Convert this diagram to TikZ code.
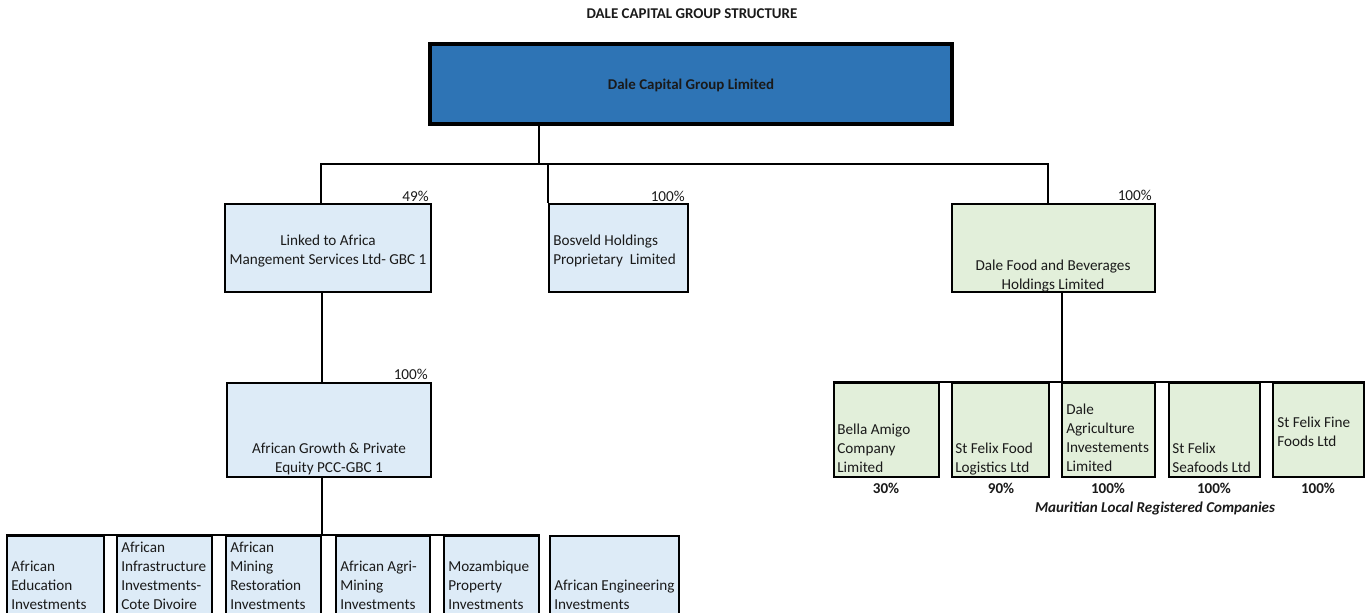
\documentclass[tikz,border=0pt]{standalone}
\usepackage{fontspec}
\setmainfont{Carlito}
\usetikzlibrary{fit}
\definecolor{topblue}{HTML}{2E74B5}
\definecolor{lblue}{HTML}{DDEBF7}
\definecolor{lgreen}{HTML}{E2EFDA}
\definecolor{ink}{HTML}{1A1A1A}
\newcommand\lefttab[1]{\begin{tabular}[t]{@{}l@{}}#1\end{tabular}}
\newcommand\centtab[1]{\begin{tabular}[t]{@{}c@{}}#1\end{tabular}}
\begin{document}
\begin{tikzpicture}[x=0.75pt,y=-0.75pt,
  bbox/.style={draw=black,line width=1.8pt,inner sep=0pt},
  conn/.style={draw=black,line width=1.4pt},
  txt/.style={inner sep=0pt,text=ink,font=\fontsize{11.4}{14.25}\selectfont},
  bpct/.style={inner sep=0pt,text=ink,font=\bfseries\fontsize{11.3}{14.25}\selectfont},
  head/.style={inner sep=0pt,text=ink,font=\bfseries\fontsize{11.2}{13}\selectfont}]
\path[use as bounding box] (0,0) rectangle (1366,613);
\clip (0,0) rectangle (1366,613);

% title
\node[head, anchor=base] (title) at (692,19) {DALE CAPITAL GROUP STRUCTURE};

% boxes
\node[bbox, line width=2.4pt, fill=topblue, fit={(430,44)(952,124)}] (top) {};
\node[head, anchor=base] (toptxt) at (691,90) {Dale Capital Group Limited};

\node[bbox, fill=lblue, fit={(225,204)(431,292)}] (link) {};
\node[bbox, fill=lblue, fit={(549,204)(688,292)}] (bos) {};
\node[bbox, fill=lgreen, fit={(952,204)(1155,292)}] (dfb) {};
\node[bbox, fill=lblue, fit={(227,383)(431,477)}] (ag) {};

\node[bbox, fill=lgreen, fit={(834,383)(939,477)}] (m1) {};
\node[bbox, fill=lgreen, fit={(952,383)(1049,477)}] (m2) {};
\node[bbox, fill=lgreen, fit={(1062,383)(1155,477)}] (m3) {};
\node[bbox, fill=lgreen, fit={(1169,383)(1260,477)}] (m4) {};
\node[bbox, fill=lgreen, fit={(1273,383)(1364,477)}] (m5) {};

\node[bbox, fill=lblue, fit={(7,536)(104,650)}] (e1) {};
\node[bbox, fill=lblue, fit={(117,536)(212,650)}] (e2) {};
\node[bbox, fill=lblue, fit={(226,536)(321,650)}] (e3) {};
\node[bbox, fill=lblue, fit={(336,536)(430,650)}] (e4) {};
\node[bbox, fill=lblue, fit={(444,536)(539,650)}] (e5) {};
\node[bbox, fill=lblue, fit={(550,536)(679,650)}] (e6) {};

% connectors
\coordinate (hub) at (539,164);
\coordinate (dl) at (321,164);
\coordinate (dr) at (1048,164);
\coordinate (dm) at (322,0);
\coordinate (dfx) at (1062,0);
\draw[conn] (top.south -| hub) -- (hub);
\draw[conn] (dl |- link.north) -- (dl) -- (dr) -- (dr |- dfb.north);
\draw[conn] (bos.north west) -- (bos.north west |- hub);
\draw[conn] (link.south -| dm) -- (ag.north -| dm);
\draw[conn] (ag.south -| dm) -- (e1.north -| dm);
\draw[conn] (e1.north west) -- (e5.north east);
\draw[conn] (dfb.south -| dfx) -- (m1.north -| dfx);
\draw[conn] (m1.north west) -- (m5.north east);

% percentages above
\node[txt, anchor=base east] (p49) at (429,201) {49\%};
\node[txt, anchor=base east] (pbos) at (685,201) {100\%};
\node[txt, anchor=base east] (pdfb) at (1152,200) {100\%};
\node[txt, anchor=base east] (pag) at (428,379) {100\%};

% box texts
\node[txt, anchor=base] (linkt) at (328,245) {\centtab{Linked to Africa\\Mangement Services Ltd- GBC 1}};
\node[txt, anchor=base west] (bost) at (553,245) {\lefttab{Bosveld Holdings\\Proprietary\ \ Limited}};
\node[txt, anchor=base] (dfbt) at (1053,270) {\centtab{Dale Food and Beverages\\Holdings Limited}};
\node[txt, anchor=base] (agt) at (329,453) {\centtab{African Growth \& Private\\Equity PCC-GBC 1}};

\node[txt, anchor=base west] (m1t) at (837,434) {\lefttab{Bella Amigo\\Company\\Limited}};
\node[txt, anchor=base west] (m2t) at (955,453) {\lefttab{St Felix Food\\Logistics Ltd}};
\node[txt, anchor=base west] (m3t) at (1066,414) {\lefttab{Dale\\Agriculture\\Investements\\Limited}};
\node[txt, anchor=base west] (m4t) at (1172,453) {\lefttab{St Felix\\Seafoods Ltd}};
\node[txt, anchor=base west] (m5t) at (1277,427) {\lefttab{St Felix Fine\\Foods Ltd}};

\node[bpct, anchor=base] (q1) at (886,493) {30\%};
\node[bpct, anchor=base] (q2) at (1001,493) {90\%};
\node[bpct, anchor=base] (q3) at (1108,493) {100\%};
\node[bpct, anchor=base] (q4) at (1214,493) {100\%};
\node[bpct, anchor=base] (q5) at (1318,493) {100\%};
\node[bpct, anchor=base, font=\bfseries\itshape\fontsize{11.3}{14.25}\selectfont] (maur) at (1155,512) {Mauritian Local Registered Companies};

\node[txt, anchor=base west] (e1t) at (11,571) {\lefttab{African\\Education\\Investments}};
\node[txt, anchor=base west] (e2t) at (121,552) {\lefttab{African\\Infrastructure\\Investments-\\Cote Divoire}};
\node[txt, anchor=base west] (e3t) at (230,552) {\lefttab{African\\Mining\\Restoration\\Investments}};
\node[txt, anchor=base west] (e4t) at (340,571) {\lefttab{African Agri-\\Mining\\Investments}};
\node[txt, anchor=base west] (e5t) at (448,571) {\lefttab{Mozambique\\Property\\Investments}};
\node[txt, anchor=base west] (e6t) at (554,590) {\lefttab{African Engineering\\Investments}};
\end{tikzpicture}
\end{document}
